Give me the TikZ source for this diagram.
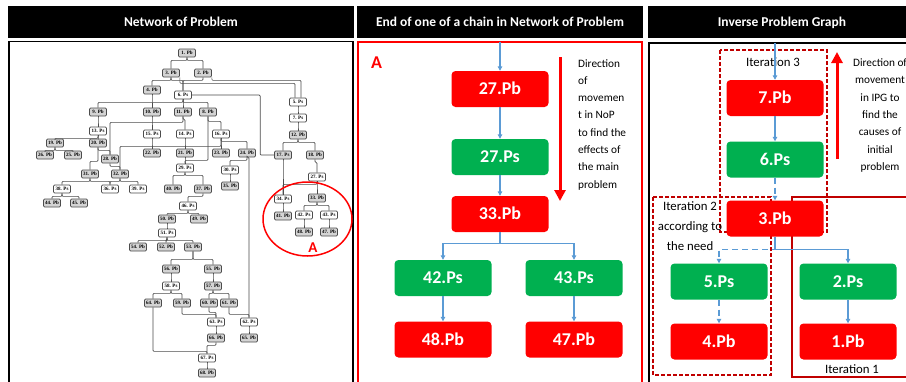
\documentclass[tikz,border=0pt]{standalone}
\usepackage{fontspec}
\setmainfont{Carlito}
\newfontfamily\treefont{Liberation Serif}
\usetikzlibrary{arrows.meta}
\definecolor{flowblue}{HTML}{5B9BD5}
\definecolor{okgreen}{HTML}{00B050}
\definecolor{darkred}{HTML}{C00000}
\definecolor{boxgray}{HTML}{D4D4D4}
\tikzset{link/.style={to path={(\tikztostart.south) -- ++(0,-#1) -| (\tikztotarget.north)}}, link/.default=3pt}

\begin{document}
\begin{tikzpicture}[x=1pt,y=-1pt]
        \tikzstyle{title}=[fill=black, text=white, inner sep=0pt, minimum height=32pt, text height=8.7pt, text depth=0pt, font=\bfseries\fontsize{13.5}{14}\selectfont]
        \tikzstyle{Pb}=[rectangle, rounded corners=1.2pt, draw=black!70, line width=0.7pt, fill=boxgray, inner sep=0.5pt, minimum width=17pt, minimum height=8pt, font=\treefont\bfseries\fontsize{5}{5}\selectfont]
        \tikzstyle{Ps}=[Pb, fill=white]
        \tikzstyle{wire}=[draw=black!70, line width=0.7pt, rounded corners=1pt, link]
        \tikzstyle{redbox}=[rectangle, rounded corners=4pt, fill=red, text=white, minimum width=97pt, minimum height=36pt, text height=11.6pt, text depth=0pt, font=\bfseries\fontsize{18}{20}\selectfont]
        \tikzstyle{greenbox}=[redbox, fill=okgreen]
        \tikzstyle{pipe}=[flowblue, line width=1.2pt, -{Triangle[width=4.5pt,length=4.5pt]}]
        \tikzstyle{bigarrow}=[red, line width=3pt, -{Triangle[width=11pt,length=11pt]}]
        \tikzstyle{iterbox}=[darkred, line width=1.3pt, dash pattern=on 4pt off 2pt]
        \tikzstyle{note}=[inner sep=0pt, font=\fontsize{11.3}{17.3}\selectfont]
        \tikzstyle{iter}=[inner sep=0pt, font=\fontsize{12.8}{20}\selectfont]

        \useasboundingbox[fill=white] (0,0) rectangle (906,381);

        % headers and frames
        \node[title, minimum width=346pt] (head1) at (181,22) {Network of Problem};
        \node[title, minimum width=286pt] (head2) at (500,22) {End of one of a chain in Network of Problem};
        \node[title, minimum width=268pt] (head3) at (782,22) {Inverse Problem Graph};
        \draw[black, line width=1.5pt] (9,41.5) rectangle (353,384);
        \draw[red, line width=1.2pt] (358,42) rectangle (642,384);
        \draw[black, line width=1.5pt] (649,43) rectangle (912,384);

        % network of problem
        \node[Pb] (n1)  at (187,53)  {1. Pb};
        \node[Pb] (n3)  at (171,73)  {3. Pb};
        \node[Pb] (n2)  at (203,73)  {2. Pb};
        \node[Pb] (n4)  at (152,90)  {4. Pb};
        \node[Ps] (n6)  at (183,95)  {6. Ps};
        \node[Ps] (n5)  at (298,102) {5. Ps};
        \node[Pb] (n9)  at (98,112)  {9. Pb};
        \node[Pb] (n10) at (152,112) {10. Pb};
        \node[Pb] (n11) at (183,112) {11. Pb};
        \node[Pb] (n8)  at (208,112) {8. Pb};
        \node[Ps] (n7)  at (298,118) {7. Ps};
        \node[Ps] (n13) at (98,131)  {13. Ps};
        \node[Ps] (n15) at (152,134) {15. Ps};
        \node[Ps] (n14) at (185,134) {14. Ps};
        \node[Ps] (n16) at (221,134) {16. Ps};
        \node[Pb] (n12) at (298,135) {12. Pb};
        \node[Pb] (n19) at (55,143)  {19. Pb};
        \node[Pb] (n20) at (98,143)  {20. Pb};
        \node[Pb] (n26) at (45,155)  {26. Pb};
        \node[Pb] (n25) at (73,155)  {25. Pb};
        \node[Pb] (n22) at (152,153) {22. Pb};
        \node[Pb] (n21) at (185,153) {21. Pb};
        \node[Pb] (n23) at (221,153) {23. Pb};
        \node[Pb] (n24) at (247,153) {24. Pb};
        \node[Pb] (n17) at (283,155) {17. Ps};
        \node[Pb] (n18) at (315,155) {18. Pb};
        \node[Pb] (n28) at (110,159) {28. Pb};
        \node[Ps] (n29) at (185,168) {29. Ps};
        \node[Ps] (n30) at (230,170) {30. Ps};
        \node[Ps] (n27) at (317,177) {27. Ps};
        \node[Pb] (n31) at (90,174)  {31. Pb};
        \node[Pb] (n32) at (120,174) {32. Pb};
        \node[Pb] (n35) at (230,186) {35. Pb};
        \node[Ps] (n38) at (62,189)  {38. Ps};
        \node[Ps] (n36) at (110,189) {36. Ps};
        \node[Ps] (n39) at (138,189) {39. Ps};
        \node[Pb] (n40) at (173,189) {40. Pb};
        \node[Pb] (n37) at (203,189) {37. Pb};
        \node[Pb] (n44) at (52,203)  {44. Pb};
        \node[Pb] (n45) at (79,203)  {45. Pb};
        \node[Ps] (n46) at (188,206) {46. Ps};
        \node[Pb] (n50) at (167,219) {50. Pb};
        \node[Pb] (n49) at (199,219) {49. Pb};
        \node[Ps] (n51) at (167,233) {51. Ps};
        \node[Pb] (n54) at (138,247) {54. Pb};
        \node[Pb] (n52) at (166,247) {52. Pb};
        \node[Pb] (n53) at (193,247) {53. Pb};
        \node[Pb] (n56) at (171,269) {56. Pb};
        \node[Pb] (n55) at (213,269) {55. Pb};
        \node[Ps] (n58) at (171,286) {58. Ps};
        \node[Pb] (n57) at (213,286) {57. Pb};
        \node[Pb] (n64) at (153,303) {64. Pb};
        \node[Pb] (n59) at (182,303) {59. Pb};
        \node[Pb] (n60) at (209,303) {60. Pb};
        \node[Pb] (n61) at (229,303) {61. Pb};
        \node[Ps] (n63) at (216,322) {63. Ps};
        \node[Ps] (n62) at (249,322) {62. Ps};
        \node[Pb] (n66) at (216,338) {66. Pb};
        \node[Pb] (n65) at (249,338) {65. Pb};
        \node[Ps] (n67) at (207,358) {67. Ps};
        \node[Pb] (n68) at (207,373) {68. Pb};
        \node[Ps] (n34) at (283,199) {34. Ps};
        \node[Pb] (n33) at (317,198) {33. Pb};
        \node[Pb] (n41) at (283,216) {41. Pb};
        \node[Ps] (n42) at (304,215) {42. Ps};
        \node[Ps] (n43) at (329,215) {43. Ps};
        \node[Pb] (n48) at (304,232) {48. Pb};
        \node[Pb] (n47) at (329,232) {47. Pb};

        \draw[wire] (n1) edge (n3) edge (n2);
        \draw[wire] (n3) edge (n4) edge (n6);
        \draw[wire] (n2) edge (n6);
        \draw[wire] (n3.south east) -- ++(0,-6pt) -| ([xshift=-3pt]n5.north);
        \draw[wire] (n2.south east) -- ++(0,-3pt) -| ([xshift=3pt]n5.north);
        \draw[wire] (n6) -| ([xshift=-14pt]n17.west) -- (n17);
        \draw[wire] (n4) edge (n10);
        \draw[wire] (n6) edge (n9) edge (n11) edge (n8);
        \draw[wire] (n9) edge (n13);
        \draw[wire] (n10) edge (n15);
        \draw[wire] (n15) edge (n22);
        \draw[wire] (n11) edge (n14) edge[link=6pt] (n28);
        \draw[wire] (n8) edge[link=5pt] (n16) edge[link=44pt] (n29);
        \draw[wire] (n13) edge (n19) edge (n20);
        \draw[wire] (n19) edge (n26) edge (n25);
        \draw[wire] (n20) edge (n28) edge[link=14pt] (n31);
        \draw[wire] (n28) edge (n32);
        \draw[wire] (n31) edge (n38) edge (n36);
        \draw[wire] (n32) edge (n36) edge (n39);
        \draw[wire] (n38) edge (n44) edge (n45);
        \draw[wire] (n14) edge (n21);
        \draw[wire] (n21) edge (n29);
        \draw[wire] (n16) edge (n23) edge (n24) edge[link=8pt] (n32);
        \draw[wire] (n24) edge (n30) edge[link=0pt] (n62);
        \draw[wire] (n30) edge (n35);
        \draw[wire] (n29) edge (n40) edge (n37);
        \draw[wire] (n37) edge (n46);
        \draw[wire] (n46) edge (n50) edge (n49);
        \draw[wire] (n50) edge (n51);
        \draw[wire] (n51) edge (n54) edge (n52) edge (n53);
        \draw[wire] (n53) edge[link=8pt] (n56) edge[link=8pt] (n55);
        \draw[wire] (n56) edge (n58);
        \draw[wire] (n55) edge (n57);
        \draw[wire] (n58) edge (n64) edge (n59);
        \draw[wire] (n57) edge (n60) edge (n61);
        \draw[wire] (n59) edge[link=7pt] (n63);
        \draw[wire] (n60) edge[link=5pt] (n63);
        \draw[wire] (n61) edge[link=7pt] (n62);
        \draw[wire] (n63) edge (n66);
        \draw[wire] (n62) edge (n65);
        \draw[wire] (n66) edge (n67);
        \draw[wire] (n64) edge[link=44pt] (n67);
        \draw[wire] (n67) edge (n68);
        \draw[wire] (n5) edge (n7);
        \draw[wire] (n7) edge (n12);
        \draw[wire] (n12) edge (n17) edge (n18);
        \draw[wire] (n18) edge (n27);
        \draw[wire] (n17) edge (n34);
        \draw[wire] (n27) edge (n33) edge (n34);
        \draw[wire] (n34) edge (n41);
        \draw[wire] (n33) edge (n42) edge (n43);
        \draw[wire] (n42) edge (n48);
        \draw[wire] (n43) edge (n47);

        \draw[red, line width=1.5pt] (307.5,219) ellipse [x radius=44.5pt, y radius=37pt];
        \node[red, inner sep=0pt, font=\bfseries\fontsize{15}{15}\selectfont] (zoneA) at (313,248) {A};

        % end of one chain
        \node[red, inner sep=0pt, text height=11.6pt, text depth=0pt, font=\bfseries\fontsize{18}{18}\selectfont] (tagA) at (376.5,62.5) {A};
        \coordinate (inA) at (500,42);
        \node[redbox]   (b27) at (500,89)    {27.Pb};
        \node[greenbox] (s27) at (500,157)   {27.Ps};
        \node[redbox]   (b33) at (500,214)   {33.Pb};
        \node[greenbox] (s42) at (443,278)   {42.Ps};
        \node[greenbox] (s43) at (574,278)   {43.Ps};
        \node[redbox]   (b48) at (443,339.5) {48.Pb};
        \node[redbox]   (b47) at (574,339.5) {47.Pb};

        \draw[pipe] (inA) -- (b27);
        \draw[pipe] (b27) -- (s27);
        \draw[pipe] (s27) -- (b33);
        \draw[pipe] (b33) to[link=11pt] (s42);
        \draw[pipe] (b33) to[link=11pt] (s43);
        \draw[pipe] (s42) -- (b48);
        \draw[pipe] (s43) -- (b47);

        \coordinate (downA) at (560,57);
        \coordinate (downB) at (560,201);
        \draw[bigarrow] (downA) -- (downB);
        \node[note, align=left, anchor=north west] (dirA) at (578,59) {Direction\\of\\movemen\\t in NoP\\to find the\\effects of\\the main\\problem};

        % inverse problem graph
        \draw[iterbox] (720,50) rectangle (827,232);
        \draw[iterbox] (653,197) rectangle (771,375);
        \draw[darkred, line width=1.3pt] (792,197) rectangle (912,377);
        \node[iter, anchor=base] (it3) at (773,66) {Iteration 3};
        \node[iter, align=center, anchor=north] (it2) at (690,201) {Iteration 2\\according to\\the need};
        \node[iter, anchor=base] (it1) at (852,373) {Iteration 1};

        \coordinate (inB) at (775,43);
        \node[redbox]   (i7) at (775,98)    {7.Pb};
        \node[greenbox] (i6) at (775,159.5) {6.Ps};
        \node[redbox]   (i3) at (775,218.5) {3.Pb};
        \node[greenbox] (i5) at (719,281.5) {5.Ps};
        \node[greenbox] (i2) at (848,281.5) {2.Ps};
        \node[redbox]   (i4) at (719,341.5) {4.Pb};
        \node[redbox]   (i1) at (848,341.5) {1.Pb};

        \draw[pipe] (inB) -- (i7);
        \draw[pipe] (i7) -- (i6);
        \draw[pipe, dash pattern=on 6pt off 4pt] (i6) -- (i3);
        \draw[pipe, dash pattern=on 6pt off 4pt] (i3) to[link=13pt] (i5);
        \draw[pipe] (i3) to[link=13pt] (i2);
        \draw[pipe, dash pattern=on 6pt off 4pt] (i5) -- (i4);
        \draw[pipe] (i2) -- (i1);

        \coordinate (upA) at (837,159);
        \coordinate (upB) at (837,52);
        \draw[bigarrow] (upA) -- (upB);
        \node[note, align=center, anchor=north] (dirB) at (880,58.5) {Direction of\\movement\\in IPG to\\find the\\causes of\\initial\\problem};
\end{tikzpicture}
\end{document}
